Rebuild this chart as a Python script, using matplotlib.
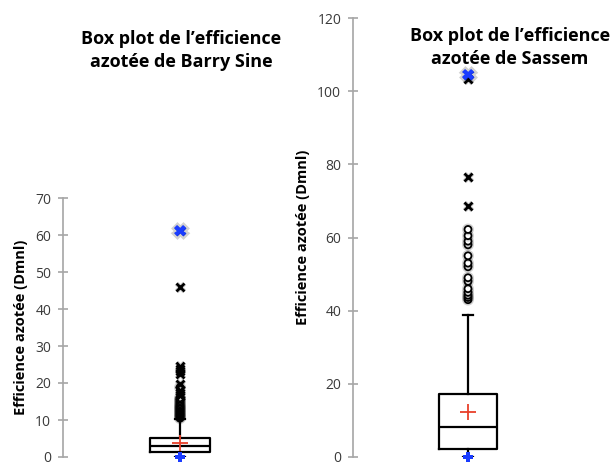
import matplotlib
matplotlib.use("Agg")
import matplotlib.pyplot as plt
import matplotlib.patheffects as pe

plt.rcParams['font.family'] = ['Open Sans', 'DejaVu Sans']

# Barry Sine summary statistics
barry_stats = dict(q1=1.4, med=3.0, q3=5.1, whislo=0.1, whishi=10.3, mean=3.8)
barry_min, barry_max = 0.1, 61.2
barry_circles = [10.5, 10.8, 11.0, 11.3, 11.6, 11.9, 12.2, 12.5, 12.8, 13.1,
                 13.4, 13.7, 14.0, 14.4, 14.8, 15.2, 15.6, 16.0, 18.8]
barry_crosses = [16.6, 17.2, 18.0, 19.8, 22.5, 23.2, 23.8, 24.5, 46.0]
barry_ticks = [0, 10, 20, 30, 40, 50, 60, 70]

# Sassem summary statistics
sassem_stats = dict(q1=2.2, med=8.2, q3=17.2, whislo=0.1, whishi=38.8, mean=12.3)
sassem_min, sassem_max = 0.1, 104.6
sassem_circles = [43.0, 43.6, 44.2, 45.0, 46.0, 48.0, 49.0, 52.0, 53.0, 55.0,
                  58.0, 59.0, 60.5, 62.2]
sassem_crosses = [68.6, 76.5, 103.4]
sassem_ticks = [0, 20, 40, 60, 80, 100, 120]

W, H = 610, 463
fig = plt.figure(figsize=(W / 100, H / 100), dpi=100)

shadow = [pe.withStroke(linewidth=3.5, foreground=(0, 0, 0, 0.18))]


def panel(rect, stats, vmin, vmax, circles, crosses, ticks, boxw):
    ax = fig.add_axes(rect)
    st = dict(stats)
    st['fliers'] = []
    ax.bxp([st], positions=[1], widths=boxw, showmeans=True, showfliers=False,
           capwidths=0.09,
           boxprops=dict(color='black', linewidth=1.6),
           medianprops=dict(color='black', linewidth=1.6),
           whiskerprops=dict(color='black', linewidth=1.6),
           capprops=dict(color='black', linewidth=1.6),
           meanprops=dict(marker='+', markeredgecolor='#e8402a', markersize=12,
                          markeredgewidth=1.3))
    ax.plot([1] * len(circles), circles, linestyle='none', marker='o',
            markersize=5, markerfacecolor='white', markeredgecolor='black',
            markeredgewidth=1.3, zorder=3, path_effects=shadow)
    ax.plot([1] * len(crosses), crosses, linestyle='none', marker='x',
            markersize=6, color='black', markeredgewidth=2.0, zorder=3,
            path_effects=shadow)
    ax.plot([1], [vmin], linestyle='none', marker='P', markersize=7,
            color='#1a3cff', markeredgewidth=0, zorder=4, clip_on=False)
    ax.plot([1], [vmax], linestyle='none', marker='X', markersize=8,
            color='#1a3cff', markeredgewidth=0, zorder=4, path_effects=shadow)
    ax.set_xlim(0, 2)
    ax.set_ylim(ticks[0], ticks[-1])
    ax.set_yticks(ticks)
    ax.set_xticks([])
    for s in ('top', 'right', 'bottom'):
        ax.spines[s].set_visible(False)
    ax.spines['left'].set_color('#a6a6a6')
    ax.spines['left'].set_linewidth(1.2)
    ax.tick_params(axis='y', colors='#a6a6a6', length=7, width=1.2,
                   direction='inout', labelcolor='#3a3a3a', labelsize=10, pad=5)
    ax.set_ylabel('Efficience azotée (Dmnl)', fontsize=10.5, fontweight='bold',
                  color='black', labelpad=5)
    ax.patch.set_alpha(0)
    return ax


panel([63 / W, 1 - 457 / H, 234 / W, 259 / H], barry_stats, barry_min, barry_max,
      barry_circles, barry_crosses, barry_ticks, 0.51)
panel([353 / W, 1 - 457 / H, 230 / W, 439 / H], sassem_stats, sassem_min, sassem_max,
      sassem_circles, sassem_crosses, sassem_ticks, 0.50)

fig.text(181 / W, 1 - 50.5 / H, "Box plot de l’efficience\nazotée de Barry Sine",
         ha='center', va='center', fontsize=13, fontweight='bold', linespacing=1.35)
fig.text(510 / W, 1 - 47.5 / H, "Box plot de l’efficience\nazotée de Sassem",
         ha='center', va='center', fontsize=13, fontweight='bold', linespacing=1.35)

fig.savefig('out.png', dpi=100, facecolor='white')
